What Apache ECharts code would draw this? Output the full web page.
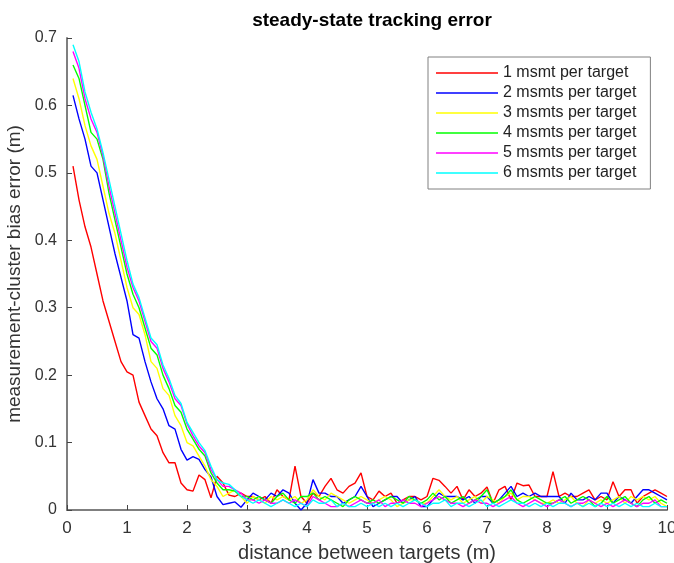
<!DOCTYPE html>
<html>
<head>
<meta charset="utf-8">
<script src="https://cdn.jsdelivr.net/npm/echarts@6/dist/echarts.min.js"></script>
<style>
  html, body { margin: 0; padding: 0; background: #fff; }
  #chart { width: 674px; height: 563px; }
</style>
</head>
<body>
<div id="chart"></div>
<script>
// distance between targets (m)
var distance = [
  0.1,0.2,0.3,0.4,0.5,0.6,0.7,0.8,0.9,1.0,
  1.1,1.2,1.3,1.4,1.5,1.6,1.7,1.8,1.9,2.0,
  2.1,2.2,2.3,2.4,2.5,2.6,2.7,2.8,2.9,3.0,
  3.1,3.2,3.3,3.4,3.5,3.6,3.7,3.8,3.9,4.0,
  4.1,4.2,4.3,4.4,4.5,4.6,4.7,4.8,4.9,5.0,
  5.1,5.2,5.3,5.4,5.5,5.6,5.7,5.8,5.9,6.0,
  6.1,6.2,6.3,6.4,6.5,6.6,6.7,6.8,6.9,7.0,
  7.1,7.2,7.3,7.4,7.5,7.6,7.7,7.8,7.9,8.0,
  8.1,8.2,8.3,8.4,8.5,8.6,8.7,8.8,8.9,9.0,
  9.1,9.2,9.3,9.4,9.5,9.6,9.7,9.8,9.9,10.0
];

var seriesNames = ['1 msmt per target', '2 msmts per target', '3 msmts per target',
                   '4 msmts per target', '5 msmts per target', '6 msmts per target'];

var err1 = [
  0.51,0.46,0.42,0.39,0.35,0.31,0.28,0.25,0.22,0.205,
  0.20,0.16,0.14,0.12,0.11,0.085,0.07,0.07,0.04,0.03,
  0.028,0.052,0.045,0.018,0.05,0.04,0.022,0.02,0.025,0.02,
  0.02,0.015,0.02,0.01,0.03,0.02,0.015,0.065,0.02,0.01,
  0.025,0.02,0.035,0.047,0.03,0.025,0.035,0.04,0.055,0.02,
  0.015,0.028,0.02,0.025,0.01,0.015,0.02,0.02,0.015,0.02,
  0.047,0.044,0.035,0.025,0.035,0.015,0.03,0.02,0.025,0.034,
  0.01,0.03,0.035,0.015,0.04,0.036,0.037,0.02,0.02,0.02,
  0.057,0.02,0.025,0.02,0.02,0.025,0.03,0.015,0.02,0.015,
  0.042,0.02,0.03,0.03,0.01,0.02,0.025,0.03,0.025,0.02
];
var err2 = [
  0.615,0.58,0.55,0.51,0.50,0.46,0.42,0.38,0.345,0.31,
  0.26,0.255,0.22,0.19,0.165,0.15,0.125,0.12,0.09,0.074,
  0.079,0.075,0.06,0.049,0.02,0.008,0.01,0.012,0.004,0.015,
  0.025,0.02,0.015,0.025,0.02,0.03,0.025,0.01,0.0,0.01,
  0.045,0.025,0.025,0.02,0.02,0.01,0.015,0.02,0.035,0.02,
  0.005,0.01,0.015,0.02,0.02,0.01,0.015,0.02,0.005,0.005,
  0.015,0.025,0.02,0.02,0.02,0.015,0.02,0.01,0.02,0.02,
  0.01,0.015,0.025,0.035,0.02,0.025,0.02,0.025,0.02,0.02,
  0.02,0.02,0.01,0.025,0.015,0.015,0.02,0.015,0.025,0.025,
  0.01,0.02,0.015,0.01,0.02,0.03,0.03,0.025,0.02,0.015
];
var err3 = [
  0.64,0.61,0.57,0.54,0.52,0.48,0.44,0.41,0.37,0.33,
  0.30,0.29,0.26,0.22,0.21,0.18,0.17,0.14,0.125,0.10,
  0.095,0.08,0.065,0.045,0.035,0.02,0.025,0.03,0.02,0.01,
  0.02,0.015,0.01,0.02,0.015,0.02,0.015,0.02,0.01,0.015,
  0.03,0.02,0.015,0.025,0.02,0.015,0.01,0.015,0.02,0.015,
  0.01,0.015,0.02,0.015,0.005,0.01,0.015,0.015,0.01,0.01,
  0.02,0.03,0.02,0.015,0.02,0.01,0.015,0.02,0.01,0.02,
  0.015,0.01,0.02,0.025,0.015,0.02,0.02,0.015,0.01,0.01,
  0.015,0.01,0.015,0.02,0.01,0.005,0.015,0.01,0.015,0.01,
  0.015,0.02,0.01,0.02,0.015,0.02,0.015,0.02,0.01,0.005
];
var err4 = [
  0.66,0.64,0.60,0.56,0.55,0.52,0.47,0.43,0.39,0.35,
  0.32,0.30,0.27,0.24,0.23,0.20,0.18,0.155,0.145,0.12,
  0.105,0.09,0.08,0.055,0.04,0.03,0.03,0.028,0.02,0.02,
  0.015,0.02,0.015,0.01,0.02,0.025,0.015,0.01,0.02,0.02,
  0.025,0.015,0.02,0.015,0.01,0.005,0.015,0.02,0.015,0.01,
  0.015,0.01,0.015,0.02,0.015,0.01,0.02,0.015,0.01,0.015,
  0.025,0.015,0.02,0.01,0.015,0.02,0.01,0.015,0.02,0.03,
  0.01,0.015,0.02,0.03,0.015,0.01,0.015,0.02,0.015,0.01,
  0.01,0.015,0.02,0.01,0.015,0.02,0.015,0.005,0.01,0.02,
  0.01,0.015,0.02,0.01,0.005,0.015,0.02,0.01,0.015,0.01
];
var err5 = [
  0.68,0.655,0.61,0.58,0.56,0.525,0.48,0.44,0.40,0.36,
  0.33,0.31,0.28,0.25,0.24,0.21,0.19,0.165,0.155,0.128,
  0.11,0.095,0.085,0.06,0.045,0.035,0.035,0.03,0.025,0.015,
  0.015,0.01,0.015,0.01,0.01,0.015,0.01,0.015,0.01,0.005,
  0.02,0.015,0.01,0.005,0.005,0.01,0.005,0.01,0.015,0.01,
  0.01,0.015,0.005,0.01,0.01,0.015,0.01,0.01,0.005,0.01,
  0.015,0.02,0.015,0.01,0.01,0.005,0.01,0.015,0.01,0.01,
  0.005,0.01,0.015,0.02,0.01,0.005,0.01,0.015,0.01,0.005,
  0.01,0.015,0.01,0.005,0.01,0.01,0.015,0.01,0.005,0.01,
  0.005,0.01,0.015,0.01,0.005,0.01,0.01,0.015,0.005,0.005
];
var err6 = [
  0.69,0.665,0.62,0.59,0.565,0.53,0.49,0.45,0.41,0.37,
  0.335,0.315,0.285,0.255,0.245,0.215,0.195,0.17,0.158,0.13,
  0.115,0.10,0.088,0.065,0.045,0.04,0.038,0.03,0.02,0.015,
  0.01,0.015,0.01,0.005,0.01,0.015,0.01,0.005,0.01,0.005,
  0.015,0.01,0.01,0.015,0.005,0.01,0.005,0.005,0.01,0.005,
  0.01,0.005,0.01,0.005,0.01,0.005,0.01,0.015,0.01,0.005,
  0.01,0.01,0.015,0.005,0.01,0.01,0.005,0.01,0.015,0.005,
  0.01,0.005,0.01,0.015,0.01,0.01,0.005,0.01,0.005,0.01,
  0.005,0.01,0.01,0.005,0.01,0.005,0.01,0.005,0.01,0.005,
  0.01,0.005,0.01,0.005,0.01,0.005,0.005,0.01,0.005,0.005
];

var colors = ['#ff0000', '#0000ff', '#ffff00', '#00ff00', '#ff00ff', '#00ffff'];
var allErrors = [err1, err2, err3, err4, err5, err6];

function pairUp(ys) {
  var out = [];
  for (var i = 0; i < distance.length; i++) out.push([distance[i], ys[i]]);
  return out;
}

var chart = echarts.init(document.getElementById('chart'));

var series = allErrors.map(function (ys, i) {
  return {
    name: seriesNames[i],
    type: 'line',
    data: pairUp(ys),
    symbol: 'none',
    lineStyle: { color: colors[i], width: 1.4 },
    itemStyle: { color: colors[i] },
    animation: false
  };
});

var axisGray = '#7f7f7f';
var labelFont = 'Liberation Sans, Arial, sans-serif';

chart.setOption({
  animation: false,
  backgroundColor: '#fff',
  title: {
    text: 'steady-state tracking error',
    left: 367,
    top: 6,
    textAlign: 'center',
    textStyle: { fontSize: 19, fontWeight: 'bold', color: '#000', fontFamily: labelFont }
  },
  legend: {
    orient: 'vertical',
    left: 428,
    top: 57,
    width: 228,
    data: seriesNames,
    icon: 'rect',
    itemWidth: 62,
    itemHeight: 1.5,
    itemGap: 4,
    padding: [8, 14, 8, 8],
    borderColor: '#808080',
    borderWidth: 1,
    textStyle: { fontSize: 16, color: '#222', fontFamily: labelFont, lineHeight: 14 }
  },
  grid: { left: 67, right: 7, top: 38, bottom: 53, containLabel: false, outerBoundsMode: 'none' },
  xAxis: {
    type: 'value',
    min: 0,
    max: 10,
    interval: 1,
    name: 'distance between targets (m)',
    nameLocation: 'middle',
    nameGap: 33,
    nameTextStyle: { fontSize: 20, color: '#333', fontFamily: labelFont },
    axisLine: { lineStyle: { color: axisGray, width: 2 } },
    axisTick: { inside: true, length: 5, lineStyle: { color: '#444' } },
    axisLabel: { fontSize: 17, color: '#333', margin: 10, fontFamily: labelFont },
    splitLine: { show: false }
  },
  yAxis: {
    type: 'value',
    min: 0,
    max: 0.7,
    interval: 0.1,
    name: 'measurement-cluster bias error (m)',
    nameLocation: 'middle',
    nameGap: 38,
    nameTextStyle: { fontSize: 19, color: '#333', fontFamily: labelFont },
    axisLine: { lineStyle: { color: axisGray, width: 2 } },
    axisTick: { inside: true, length: 5, lineStyle: { color: '#444' } },
    axisLabel: { fontSize: 16, color: '#333', margin: 10, fontFamily: labelFont,
      formatter: function (v) { return +v.toFixed(1) + ''; } },
    splitLine: { show: false }
  },
  series: series
});
</script>
</body>
</html>
